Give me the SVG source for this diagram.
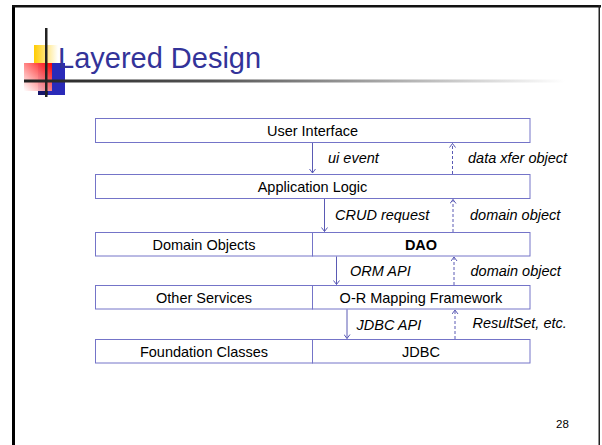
<svg xmlns="http://www.w3.org/2000/svg" width="602" height="445" viewBox="0 0 602 445">
  <defs>
    <linearGradient id="ruleGrad" x1="24" y1="0" x2="565" y2="0" gradientUnits="userSpaceOnUse">
      <stop offset="0" stop-color="#222"/>
      <stop offset="0.35" stop-color="#555"/>
      <stop offset="1" stop-color="#fff"/>
    </linearGradient>
    <linearGradient id="yellowGrad" x1="0" y1="0" x2="1" y2="0">
      <stop offset="0" stop-color="#ffcc00"/>
      <stop offset="1" stop-color="#ffffff"/>
    </linearGradient>
    <linearGradient id="redGrad" x1="1" y1="0" x2="0" y2="1">
      <stop offset="0" stop-color="#ff0000"/>
      <stop offset="1" stop-color="#ffffff" stop-opacity="0.9"/>
    </linearGradient>
    <!-- open chevron arrowhead, tip at the line end -->
    <marker id="head" viewBox="0 0 7 7" refX="5.5" refY="3.5" markerWidth="7" markerHeight="7" markerUnits="userSpaceOnUse" orient="auto">
      <path d="M1.5,0.5 L5.5,3.5 L1.5,6.5" fill="none" stroke="#5a5ab4" stroke-width="1"/>
    </marker>
    <style>
      .box { fill: #fff; stroke: #7474c8; stroke-width: 1; }
      .lbl { font-family: "Liberation Sans", Arial, sans-serif; font-size: 14.5px; fill: #000; text-anchor: middle; }
      .bold { font-weight: bold; }
      .note { font-family: "Liberation Sans", Arial, sans-serif; font-size: 14.5px; font-style: italic; fill: #000; }
      .call { stroke: #5a5ab4; stroke-width: 1; fill: none; marker-end: url(#head); }
      .ret { stroke: #5a5ab4; stroke-width: 1; fill: none; stroke-dasharray: 3 2; marker-end: url(#head); }
    </style>
  </defs>

  <rect width="602" height="445" fill="#fff"/>

  <!-- slide frame -->
  <rect x="12" y="5" width="3" height="440" fill="#000"/>
  <rect x="12" y="5" width="589" height="2.5" fill="#111"/>
  <rect x="598.5" y="5" width="1.5" height="440" fill="#222"/>

  <!-- title ornament -->
  <g id="ornament">
    <rect x="34" y="45" width="24" height="20" fill="url(#yellowGrad)"/>
    <rect x="38" y="63" width="27" height="32" fill="#2a2ab8"/>
    <rect x="38" y="91" width="10" height="4" fill="#16166a"/>
    <rect x="24" y="63" width="28" height="28" fill="url(#redGrad)"/>
    <rect x="24" y="79.5" width="541" height="3" fill="url(#ruleGrad)"/>
    <rect x="45" y="28" width="2.5" height="69" fill="#222"/>
  </g>

  <text x="58" y="68" font-family="'Liberation Sans', Arial, sans-serif" font-size="29" fill="#333399">Layered Design</text>

  <!-- layers -->
  <g id="user-interface">
    <rect class="box" x="95.5" y="118.5" width="434.5" height="24"/>
    <text class="lbl" x="312.5" y="135.5">User Interface</text>
  </g>
  <g id="application-logic">
    <rect class="box" x="95.5" y="174.5" width="434.5" height="24"/>
    <text class="lbl" x="312.5" y="191.5">Application Logic</text>
  </g>
  <g id="domain-objects">
    <rect class="box" x="95.5" y="232.5" width="217" height="23.5"/>
    <text class="lbl" x="204" y="249.5">Domain Objects</text>
  </g>
  <g id="dao">
    <rect class="box" x="312.5" y="232.5" width="217.5" height="23.5"/>
    <text class="lbl bold" x="421" y="249.5">DAO</text>
  </g>
  <g id="other-services">
    <rect class="box" x="95.5" y="285.5" width="217" height="23.5"/>
    <text class="lbl" x="204" y="302.5">Other Services</text>
  </g>
  <g id="or-mapping">
    <rect class="box" x="312.5" y="285.5" width="217.5" height="23.5"/>
    <text class="lbl" x="421" y="302.5">O-R Mapping Framework</text>
  </g>
  <g id="foundation-classes">
    <rect class="box" x="95.5" y="339.5" width="217" height="23.5"/>
    <text class="lbl" x="204" y="356.5">Foundation Classes</text>
  </g>
  <g id="jdbc">
    <rect class="box" x="312.5" y="339.5" width="217.5" height="23.5"/>
    <text class="lbl" x="421" y="356.5">JDBC</text>
  </g>

  <!-- calls down, results up -->
  <g id="connectors">
    <line class="call" x1="312.5" y1="143" x2="312.5" y2="173"/>
    <line class="ret" x1="452.5" y1="174" x2="452.5" y2="143.5"/>
    <line class="call" x1="324.5" y1="199" x2="324.5" y2="231.5"/>
    <line class="ret" x1="453" y1="232" x2="453" y2="199.5"/>
    <line class="call" x1="336.5" y1="256.5" x2="336.5" y2="284.5"/>
    <line class="ret" x1="454" y1="285" x2="454" y2="257"/>
    <line class="call" x1="347" y1="309.5" x2="347" y2="338.5"/>
    <line class="ret" x1="455" y1="339" x2="455" y2="310"/>
  </g>

  <g id="connector-labels">
    <text class="note" x="328" y="163">ui event</text>
    <text class="note" x="468" y="163">data xfer object</text>
    <text class="note" x="335" y="220">CRUD request</text>
    <text class="note" x="470" y="220">domain object</text>
    <text class="note" x="350" y="275.5">ORM API</text>
    <text class="note" x="470.5" y="275.5">domain object</text>
    <text class="note" x="356.5" y="330">JDBC API</text>
    <text class="note" x="472.5" y="327.5">ResultSet, etc.</text>
  </g>

  <text x="556" y="428" font-family="'Liberation Sans', Arial, sans-serif" font-size="11.5" fill="#000">28</text>
</svg>
